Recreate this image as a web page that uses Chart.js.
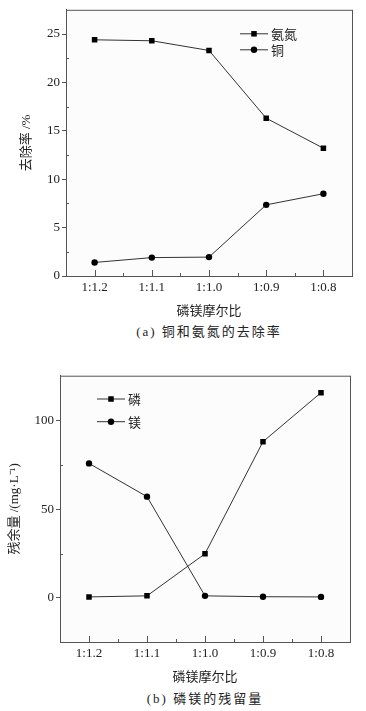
<!DOCTYPE html>
<html>
<head>
<meta charset="utf-8">
<script src="https://cdn.jsdelivr.net/npm/chart.js@4.4.1/dist/chart.umd.min.js"></script>
<style>
  body { margin: 0; background: #fff; width: 366px; height: 711px; position: relative; overflow: hidden;
         font-family: "Liberation Serif", "Noto Sans CJK SC", serif; color: #222; }
  .box { position: absolute; left: 0; width: 366px; }
  .cap { position: absolute; font-size: 13px; line-height: 16px; text-align: center;
         letter-spacing: 2px; white-space: nowrap; }
</style>
</head>
<body>
<div class="box" style="top:0;height:322px"><canvas id="chartA"></canvas></div>
<div class="cap" style="top:324px;left:66px;width:286px">(a) 铜和氨氮的去除率</div>
<div class="box" style="top:345px;height:345px"><canvas id="chartB"></canvas></div>
<div class="cap" style="top:691px;left:60px;width:290px">(b) 磷镁的残留量</div>
<script>
const ratios = ["1:1.2", "1:1.1", "1:1.0", "1:0.9", "1:0.8"];

// (a) removal rate, %
const ammonia = [24.4, 24.3, 23.3, 16.3, 13.2];
const copper = [1.4, 1.9, 1.95, 7.35, 8.5];
const ticksA = [0, 5, 10, 15, 20, 25];
const minorA = [2.5, 7.5, 12.5, 17.5, 22.5];

// (b) residual, mg/L
const phosphorus = [0.5, 1.1, 24.9, 88.3, 116];
const magnesium = [76, 57.2, 1.1, 0.6, 0.5];
const ticksB = [0, 50, 100];
const minorB = [25, 75];

const INK = "#222";
const AXIS = "#555";
const serif = '"Liberation Serif", "Noto Sans CJK SC", serif';
const cjk = '"Noto Sans CJK SC", sans-serif';

// plot box, inward x ticks and inward minor y ticks
const frame = {
  id: "frame",
  beforeDraw(chart) {
    const { ctx, chartArea: a } = chart;
    ctx.save();
    ctx.fillStyle = "#fcfcfc";
    ctx.fillRect(a.left, a.top, a.right - a.left, a.bottom - a.top);
    ctx.restore();
  },
  afterDraw(chart, args, opts) {
    const { ctx, chartArea: a, scales } = chart;
    ctx.save();
    ctx.strokeStyle = AXIS;
    ctx.lineWidth = 1;
    ctx.strokeRect(a.left + 0.5, a.top + 0.5, a.right - a.left, a.bottom - a.top);
    ctx.beginPath();
    const xs = ratios.map((_, i) => scales.x.getPixelForValue(i));
    xs.forEach((x, i) => {
      ctx.moveTo(Math.round(x) + 0.5, a.bottom);
      ctx.lineTo(Math.round(x) + 0.5, a.bottom - 6);
      if (i > 0) {
        const m = Math.round((x + xs[i - 1]) / 2) + 0.5;
        ctx.moveTo(m, a.bottom);
        ctx.lineTo(m, a.bottom - 3);
      }
    });
    opts.minor.forEach((v) => {
      const y = Math.round(scales.y.getPixelForValue(v)) + 0.5;
      ctx.moveTo(a.left, y);
      ctx.lineTo(a.left + 3, y);
    });
    ctx.stroke();
    ctx.restore();
  },
};

// legend drawn inside the plot
const insideLegend = {
  id: "insideLegend",
  afterDatasetsDraw(chart, args, opts) {
    const { ctx, chartArea: a } = chart;
    ctx.save();
    chart.data.datasets.forEach((ds, i) => {
      const x0 = a.left + opts.x;
      const y = a.top + opts.y + i * opts.rowGap;
      ctx.strokeStyle = ds.borderColor;
      ctx.lineWidth = 1;
      ctx.beginPath();
      ctx.moveTo(x0, y);
      ctx.lineTo(x0 + 28, y);
      ctx.stroke();
      ctx.fillStyle = ds.pointBackgroundColor;
      Chart.helpers.drawPoint(ctx, { pointStyle: ds.pointStyle, radius: ds.pointRadius, borderWidth: 0 }, x0 + 14, y);
      ctx.fillStyle = INK;
      ctx.font = "13px " + cjk;
      ctx.textBaseline = "middle";
      ctx.fillText(ds.label, x0 + 31, y);
    });
    ctx.restore();
  },
};

function series(label, data, style) {
  return {
    label,
    data,
    borderColor: "#333",
    borderWidth: 1,
    pointStyle: style,
    pointRadius: style === "rect" ? 3.9 : 3.2,
    pointHoverRadius: style === "rect" ? 3.9 : 3.2,
    pointBackgroundColor: "#000",
    pointBorderColor: "#000",
    pointBorderWidth: 0,
  };
}

function makeChart(id, cfg) {
  return new Chart(document.getElementById(id), {
    type: "line",
    plugins: [frame, insideLegend],
    data: { labels: ratios, datasets: cfg.datasets },
    options: {
      animation: false,
      responsive: true,
      maintainAspectRatio: false,
      layout: { padding: cfg.padding },
      plugins: {
        legend: { display: false },
        tooltip: { enabled: false },
        frame: { minor: cfg.minor },
        insideLegend: cfg.legend,
      },
      scales: {
        x: {
          offset: true,
          grid: { display: false, drawTicks: false },
          border: { display: false },
          ticks: { color: INK, font: { family: serif, size: 13 }, padding: 4, maxRotation: 0 },
          title: {
            display: true, text: "磷镁摩尔比", color: INK,
            font: { family: cjk, size: 13 }, padding: { bottom: cfg.xTitlePad },
          },
          afterFit: (s) => { s.height = cfg.xHeight; },
        },
        y: {
          min: cfg.min,
          max: cfg.max,
          grid: { drawOnChartArea: false, drawTicks: true, tickLength: 4, color: AXIS },
          border: { color: AXIS },
          ticks: { color: INK, font: { family: serif, size: 13 }, padding: 2 },
          afterBuildTicks: (s) => { s.ticks = cfg.ticks.map((v) => ({ value: v })); },
          title: {
            display: true, text: cfg.yTitle, color: INK,
            font: { family: serif, size: 13 }, padding: { top: cfg.yTitlePad },
          },
          afterFit: (s) => { s.width = cfg.yWidth; },
        },
      },
    },
  });
}

makeChart("chartA", {
  datasets: [series("氨氮", ammonia, "rect"), series("铜", copper, "circle")],
  min: 0, max: 27.5, ticks: ticksA, minor: minorA,
  yTitle: "去除率 /%", yTitlePad: 19, yWidth: 66,
  xHeight: 46, xTitlePad: 4.2,
  padding: { top: 9, right: 14, left: 0, bottom: 0 },
  legend: { x: 174, y: 24, rowGap: 16 },
});

makeChart("chartB", {
  datasets: [series("磷", phosphorus, "rect"), series("镁", magnesium, "circle")],
  min: -25, max: 125.6, ticks: ticksB, minor: minorB,
  yTitle: "残余量 /(mg·L⁻¹)", yTitlePad: 7.2, yWidth: 60,
  xHeight: 48, xTitlePad: 6.2,
  padding: { top: 30.7, right: 16, left: 0, bottom: 0 },
  legend: { x: 37, y: 23.3, rowGap: 22.7 },
});
</script>
</body>
</html>
